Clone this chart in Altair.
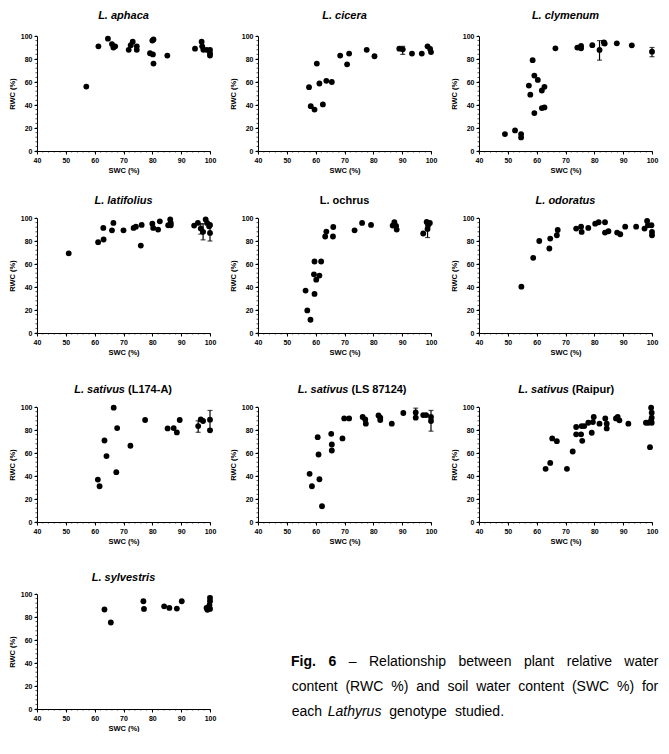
import altair as alt
import pandas as pd

# ---------------- data ----------------
aphaca_swc = [57.1, 61.3, 64.6, 66.0, 66.5, 67.1, 71.8, 72.5, 73.2, 74.6, 74.6, 79.2, 80.2, 80.4, 80.0, 80.4, 85.2, 94.8, 97.1, 97.3, 97.7, 98.8, 100, 100, 100]
aphaca_rwc = [56, 91, 97.7, 93, 90, 91, 88, 92, 95, 91, 88, 85, 84, 97, 96, 76, 83, 89, 95, 91, 88, 88, 88, 85, 83]
aphaca_err_x, aphaca_err_lo, aphaca_err_hi = [], [], []

cicera_swc = [57.7, 58.3, 59.6, 60.4, 61.3, 62.5, 63.7, 65.6, 68.5, 70.9, 71.6, 77.7, 80.4, 89.0, 90.2, 93.4, 96.8, 98.8, 99.7, 100]
cicera_rwc = [55.5, 39, 36, 76, 58.7, 40.5, 61, 60, 83, 75.4, 84.7, 88, 82.4, 89, 88.4, 84.7, 84.7, 91, 88.7, 86]
cicera_err_x, cicera_err_lo, cicera_err_hi = [90.2], [84], [91]

clymenum_swc = [49, 52.5, 54.6, 54.6, 57.3, 57.8, 58.6, 59.2, 59.2, 60.4, 61.8, 61.8, 62.7, 62.7, 66.5, 74.1, 75.4, 75.4, 79.3, 81.8, 83.3, 83.6, 87.8, 93, 100]
clymenum_rwc = [14.7, 17.9, 14.7, 11.8, 56.9, 49, 79, 65.6, 33, 61.8, 52.6, 37.3, 55.8, 37.9, 89.3, 89.9, 91.3, 89.3, 92, 87.9, 94.5, 93.4, 93.6, 91.9, 86.4]
clymenum_err_x, clymenum_err_lo, clymenum_err_hi = [81.8, 83.3, 100], [79, 92, 82], [96, 96, 90]

latifolius_swc = [51, 61.2, 63.1, 63, 66, 66.5, 70, 73.5, 74.3, 76, 76.3, 80, 80.3, 82, 82.6, 85.5, 86.2, 86.4, 86.4, 94.5, 95.8, 96.8, 97.6, 98.5, 99, 99.7, 100, 100]
latifolius_rwc = [69.2, 79, 81.3, 91.4, 89.3, 95.7, 89.3, 91.4, 92.5, 76, 94, 95.1, 91.4, 89.9, 97.1, 93.7, 98.8, 93.7, 95.7, 93.4, 95.7, 90.8, 88, 98.8, 95.7, 92.8, 87, 94]
latifolius_err_x, latifolius_err_lo, latifolius_err_hi = [96.8, 97.6, 100], [86, 81, 80], [95, 95, 93]

ochrus_swc = [56.5, 57.1, 58.2, 59.4, 59.6, 59.6, 60.2, 61.3, 61.9, 63.3, 63.7, 66, 66.1, 73.5, 76.1, 79.2, 86.7, 87.3, 87.9, 88.1, 97.3, 98.5, 98.8, 99, 99.6]
ochrus_rwc = [36.9, 19.6, 11.5, 51, 62.2, 34, 46.4, 49.9, 62.2, 83.9, 88.2, 83.9, 92.2, 89.3, 95.7, 94, 93.4, 96.3, 93.1, 89.9, 86.5, 96.5, 90.5, 93.7, 95.7]
ochrus_err_x, ochrus_err_lo, ochrus_err_hi = [98.8, 87.3], [83, 92], [97, 97]

odoratus_swc = [54.7, 58.8, 60.9, 64.4, 64.7, 67, 67.3, 73.7, 75.4, 75.6, 77.9, 80.3, 81.5, 83.7, 83.7, 84.9, 87.9, 89, 90.7, 94.5, 97.4, 98.3, 98.6, 99.8, 100, 100]
odoratus_rwc = [40.3, 65.4, 80, 73.5, 82.1, 85, 89.6, 90.8, 92.5, 87.9, 91.4, 95.1, 96.3, 96.3, 87.3, 88.5, 87.3, 85.9, 92.5, 92.5, 90.8, 97.4, 93.7, 93.7, 87.9, 85]
odoratus_err_x, odoratus_err_lo, odoratus_err_hi = [], [], []

l174_swc = [61.1, 61.7, 63.4, 64.1, 66.6, 67.5, 67.8, 72.4, 77.5, 85.3, 87.4, 88.5, 89.5, 95.9, 96.8, 97.6, 100, 100]
l174_rwc = [36.9, 31.1, 70.9, 57.3, 99.4, 43.3, 81.7, 66.3, 88.7, 81.4, 81.7, 77.9, 88.7, 83.4, 89.2, 87.8, 89, 79.7]
l174_err_x, l174_err_lo, l174_err_hi = [95.9, 100], [78, 81], [88, 97]

ls_swc = [57.9, 58.7, 60.7, 61, 61.3, 62.2, 65.4, 65.6, 65.6, 69.3, 69.9, 71.6, 76.3, 77.2, 77.4, 81.8, 82.4, 82.4, 86.4, 90.4, 94.7, 94.7, 97.3, 98.3, 100, 100]
ls_rwc = [41.9, 31.1, 73.8, 58.7, 37.2, 13.7, 76.7, 67.4, 62.2, 72.7, 90.1, 90.1, 91.3, 89.2, 85.5, 92.7, 90.7, 88.7, 85.5, 94.8, 90.7, 95.3, 93, 93, 91.3, 87.8]
ls_err_x, ls_err_lo, ls_err_hi = [94.7, 100], [91, 79], [99, 97]

raipur_swc = [63.1, 64.7, 65.4, 67, 70.5, 72.5, 73.7, 73.7, 75.4, 75.8, 75.6, 76.5, 77.9, 79.1, 79.5, 79.8, 81.8, 83.8, 84.3, 84.3, 87.5, 88.1, 88.7, 91.8, 97.9, 98.7, 99.3, 99.7, 99.9, 99.9, 99.9, 99.7]
raipur_rwc = [46.2, 51.4, 72.7, 70.3, 46.2, 61.3, 82.6, 76.2, 76.2, 70.6, 83.4, 83.4, 86.3, 77.6, 86.9, 91.3, 85.5, 90.1, 81.4, 85.5, 90.1, 91.3, 88.4, 85.5, 86.3, 86.3, 65.1, 99.4, 95, 90.7, 86.3, 88.4]
raipur_err_x, raipur_err_lo, raipur_err_hi = [], [], []

sylvestris_swc = [63.4, 65.6, 76.9, 77.1, 84.1, 85.9, 88.5, 90.2, 98.8, 99.1, 99.8, 100, 100, 100]
sylvestris_rwc = [86.5, 75.2, 93.7, 87, 89.3, 87.9, 87.3, 93.7, 87.9, 86.2, 90.3, 93.7, 96.6, 87]
sylvestris_err_x, sylvestris_err_lo, sylvestris_err_hi = [100], [88], [98]

x_ticks = [40, 50, 60, 70, 80, 90, 100]
y_ticks = [0, 20, 40, 60, 80, 100]
x_minor = list(range(40, 101, 2))
y_minor = list(range(0, 101, 4))

FONT = "Liberation Sans"
W, H = 173, 115


def panel(swc, rwc, ex, elo, ehi, title_main, title_extra=None, italic=True,
          split=0.0, title_y=-14, caption=None):
    x_scale = alt.Scale(domain=[40, 100], nice=False, zero=False)
    y_scale = alt.Scale(domain=[0, 100], nice=False)
    x_axis = alt.Axis(values=x_ticks, title="SWC (%)", labelPadding=2, titlePadding=3,
                      labelOverlap=False, labelFlush=False)
    y_axis = alt.Axis(values=y_ticks, title="RWC (%)", labelPadding=2, titlePadding=4,
                      labelOverlap=False, labelFlush=False)
    df = pd.DataFrame({"SWC": swc, "RWC": rwc})
    layers = [alt.Chart(df).mark_circle(size=34, color="black", opacity=1).encode(
        x=alt.X("SWC:Q", scale=x_scale, axis=x_axis),
        y=alt.Y("RWC:Q", scale=y_scale, axis=y_axis))]
    # minor ticks (Prism-style dotted axes)
    mx = pd.DataFrame({"SWC": x_minor})
    layers.append(alt.Chart(mx).mark_rule(color="black", strokeWidth=0.7).encode(
        x=alt.X("SWC:Q", scale=x_scale, axis=x_axis), y=alt.value(H), y2=alt.value(H + 1.5)))
    my = pd.DataFrame({"RWC": y_minor})
    layers.append(alt.Chart(my).mark_rule(color="black", strokeWidth=0.7).encode(
        y=alt.Y("RWC:Q", scale=y_scale, axis=y_axis), x=alt.value(0), x2=alt.value(-1.5)))
    if ex:
        edf = pd.DataFrame({"SWC": ex, "lo": elo, "hi": ehi})
        layers.append(alt.Chart(edf).mark_rule(color="black", strokeWidth=1.2).encode(
            x=alt.X("SWC:Q", scale=x_scale, axis=x_axis),
            y=alt.Y("lo:Q", scale=y_scale, axis=y_axis), y2="hi:Q"))
        for c in ["lo", "hi"]:
            layers.append(alt.Chart(edf).mark_tick(orient="horizontal", size=5, thickness=1.2,
                                                   color="black").encode(
                x=alt.X("SWC:Q", scale=x_scale, axis=x_axis),
                y=alt.Y(f"{c}:Q", scale=y_scale, axis=y_axis)))
    # title
    cx = W / 2
    if title_extra is None:
        t = pd.DataFrame({"t": [title_main]})
        layers.append(alt.Chart(t).mark_text(font=FONT, fontSize=11, fontWeight="bold",
                                             fontStyle="italic" if italic else "normal",
                                             align="center", baseline="alphabetic",
                                             color="black").encode(
            text="t:N", x=alt.value(cx), y=alt.value(title_y)))
    else:
        t1 = pd.DataFrame({"t": [title_main]})
        t2 = pd.DataFrame({"t": [title_extra]})
        layers.append(alt.Chart(t1).mark_text(font=FONT, fontSize=11, fontWeight="bold",
                                              fontStyle="italic", align="right",
                                              baseline="alphabetic", color="black").encode(
            text="t:N", x=alt.value(cx + split), y=alt.value(title_y)))
        layers.append(alt.Chart(t2).mark_text(font=FONT, fontSize=11, fontWeight="bold",
                                              align="left", baseline="alphabetic",
                                              color="black").encode(
            text="t:N", x=alt.value(cx + split + 3), y=alt.value(title_y)))
    if caption is not None:
        for (word, px, py, style, weight) in caption:
            cdf = pd.DataFrame({"t": [word]})
            layers.append(alt.Chart(cdf).mark_text(font=FONT, fontSize=14, fontWeight=weight,
                                                   fontStyle=style, align="left",
                                                   baseline="alphabetic", color="black").encode(
                text="t:N", x=alt.value(px), y=alt.value(py)))
    return alt.layer(*layers).properties(width=W, height=H)


# caption words: page coordinates converted to panel-10 plot coordinates
ox, oy = 37, 594
cap_words = [
    ("Fig.", 291, 666, "normal", "bold"), ("6", 328.4, 666, "normal", "bold"),
    ("–", 348.7, 666, "normal", "normal"), ("Relationship", 369, 666, "normal", "normal"),
    ("between", 458.5, 666, "normal", "normal"), ("plant", 523.9, 666, "normal", "normal"),
    ("relative", 566.8, 666, "normal", "normal"), ("water", 624.3, 666, "normal", "normal"),
    ("content", 291.7, 691, "normal", "normal"), ("(RWC", 345.4, 691, "normal", "normal"),
    ("%)", 391.3, 691, "normal", "normal"), ("and", 416.2, 691, "normal", "normal"),
    ("soil", 447.4, 691, "normal", "normal"), ("water", 476.2, 691, "normal", "normal"),
    ("content", 518.2, 691, "normal", "normal"), ("(SWC", 571.9, 691, "normal", "normal"),
    ("%)", 617, 691, "normal", "normal"), ("for", 641.9, 691, "normal", "normal"),
    ("each", 291.7, 716, "normal", "normal"), ("Lathyrus", 327.7, 716, "italic", "normal"),
    ("genotype", 389.3, 716, "normal", "normal"), ("studied.", 455, 716, "normal", "normal"),
]
caption = [(w, px - ox, py - oy, s, wt) for (w, px, py, s, wt) in cap_words]

p1 = panel(aphaca_swc, aphaca_rwc, aphaca_err_x, aphaca_err_lo, aphaca_err_hi, "L. aphaca", title_y=-17)
p2 = panel(cicera_swc, cicera_rwc, cicera_err_x, cicera_err_lo, cicera_err_hi, "L. cicera", title_y=-17)
p3 = panel(clymenum_swc, clymenum_rwc, clymenum_err_x, clymenum_err_lo, clymenum_err_hi, "L. clymenum", title_y=-17)
p4 = panel(latifolius_swc, latifolius_rwc, latifolius_err_x, latifolius_err_lo, latifolius_err_hi, "L. latifolius")
p5 = panel(ochrus_swc, ochrus_rwc, ochrus_err_x, ochrus_err_lo, ochrus_err_hi, "L. ochrus", italic=False)
p6 = panel(odoratus_swc, odoratus_rwc, odoratus_err_x, odoratus_err_lo, odoratus_err_hi, "L. odoratus")
p7 = panel(l174_swc, l174_rwc, l174_err_x, l174_err_lo, l174_err_hi, "L. sativus", "(L174-A)", split=1.5)
p8 = panel(ls_swc, ls_rwc, ls_err_x, ls_err_lo, ls_err_hi, "L. sativus", "(LS 87124)", split=4)
p9 = panel(raipur_swc, raipur_rwc, raipur_err_x, raipur_err_lo, raipur_err_hi, "L. sativus", "(Raipur)", split=3.5)
p10 = panel(sylvestris_swc, sylvestris_rwc, sylvestris_err_x, sylvestris_err_lo, sylvestris_err_hi,
            "L. sylvestris", title_y=-13, caption=caption)

row1 = alt.hconcat(p1, p2, p3, spacing=13)
row2 = alt.hconcat(p4, p5, p6, spacing=13)
row3 = alt.hconcat(p7, p8, p9, spacing=13)
row4 = alt.hconcat(p10, spacing=13)

top = alt.vconcat(row1, row2, spacing=21)
bottom = alt.vconcat(row3, row4, spacing=27)

chart = alt.vconcat(top, bottom, spacing=28).properties(
    padding={"left": 0, "top": 2, "right": 0, "bottom": 0}, background="white"
).configure_view(stroke=None).configure_axis(
    domainColor="black", tickColor="black", labelColor="black", titleColor="black",
    labelFont=FONT, titleFont=FONT, labelFontWeight="bold", titleFontWeight="bold",
    labelFontSize=7, titleFontSize=7.5, tickSize=3, grid=False, domainWidth=1, tickWidth=1,
    labelOverlap=False,
)

chart.save("out.html", embed_options={"renderer": "svg", "actions": False})
